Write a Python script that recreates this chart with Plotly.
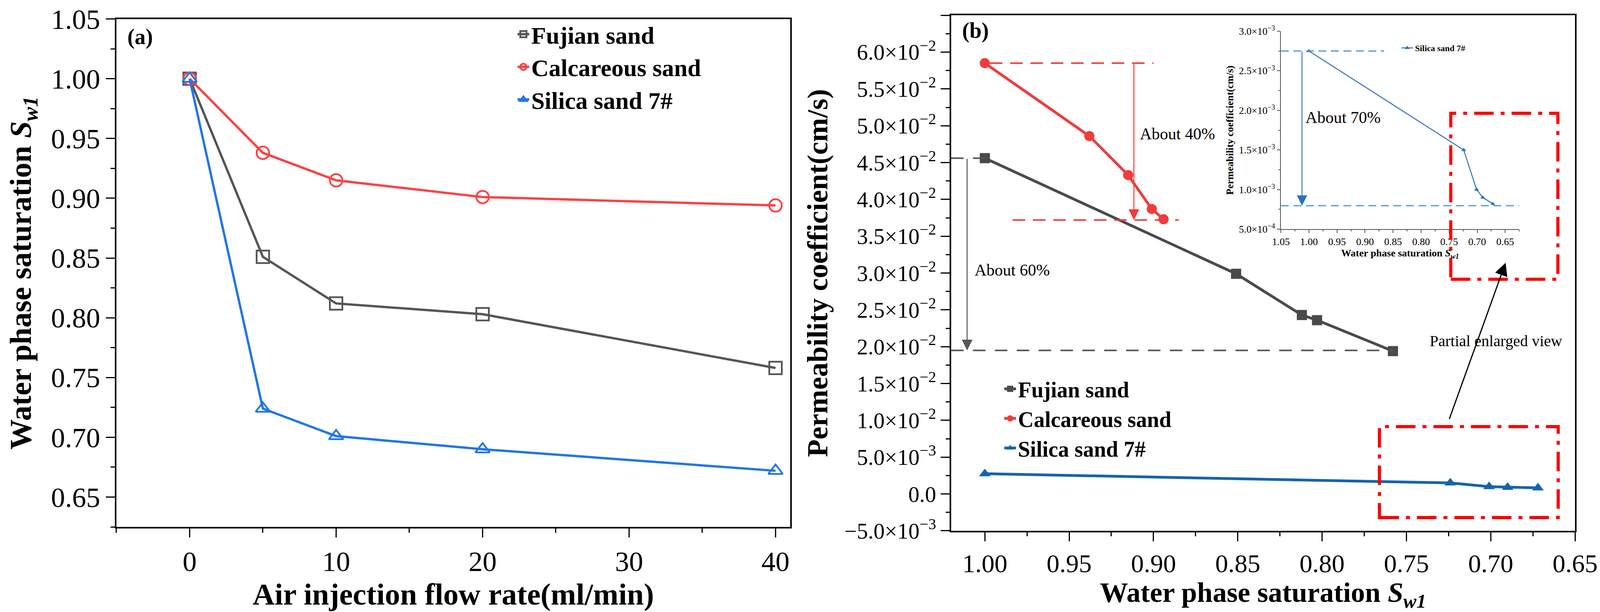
import plotly.graph_objects as go

# ---------------- data ----------------
# Panel (a): water phase saturation vs air injection flow rate
flow_rate = [0, 5, 10, 20, 40]
sw_fujian = [1.000, 0.851, 0.812, 0.803, 0.758]
sw_calcareous = [1.000, 0.938, 0.915, 0.901, 0.894]
sw_silica = [1.000, 0.724, 0.701, 0.690, 0.672]

# Panel (b): permeability coefficient vs water phase saturation
k_fujian = [0.0456, 0.0299, 0.0243, 0.0236, 0.0194]
k_calcareous = [0.0585, 0.0486, 0.0433, 0.0387, 0.0373]
k_silica = [0.00275, 0.00150, 0.00100, 0.00090, 0.00082]

series_names = ["Fujian sand", "Calcareous sand", "Silica sand 7#"]

# tick labels
a_xticks = [0, 10, 20, 30, 40]
a_yticks = [0.65, 0.70, 0.75, 0.80, 0.85, 0.90, 0.95, 1.00, 1.05]
a_yticktext = ["0.65", "0.70", "0.75", "0.80", "0.85", "0.90", "0.95", "1.00", "1.05"]

b_xticks = [1.00, 0.95, 0.90, 0.85, 0.80, 0.75, 0.70, 0.65]
b_xticktext = ["1.00", "0.95", "0.90", "0.85", "0.80", "0.75", "0.70", "0.65"]
b_yticks = [-0.005, 0.0, 0.005, 0.010, 0.015, 0.020, 0.025, 0.030, 0.035,
            0.040, 0.045, 0.050, 0.055, 0.060, 0.065]
b_yticktext = ["−5.0×10<sup>−3</sup>", "0.0", "5.0×10<sup>−3</sup>",
               "1.0×10<sup>−2</sup>", "1.5×10<sup>−2</sup>", "2.0×10<sup>−2</sup>",
               "2.5×10<sup>−2</sup>", "3.0×10<sup>−2</sup>", "3.5×10<sup>−2</sup>",
               "4.0×10<sup>−2</sup>", "4.5×10<sup>−2</sup>", "5.0×10<sup>−2</sup>",
               "5.5×10<sup>−2</sup>", "6.0×10<sup>−2</sup>", "6.5×10<sup>−2</sup>"]

inset_xticks = [1.05, 1.00, 0.95, 0.90, 0.85, 0.80, 0.75, 0.70, 0.65]
inset_xticktext = ["1.05", "1.00", "0.95", "0.90", "0.85", "0.80", "0.75", "0.70", "0.65"]
inset_yticks = [0.0005, 0.0010, 0.0015, 0.0020, 0.0025, 0.0030]
inset_yticktext = ["5.0×10<sup>−4</sup>", "1.0×10<sup>−3</sup>", "1.5×10<sup>−3</sup>",
                   "2.0×10<sup>−3</sup>", "2.5×10<sup>−3</sup>", "3.0×10<sup>−3</sup>"]

# reference levels used for the reduction guides
calc_top, calc_bottom = 0.0585, 0.0372
fujian_top, fujian_bottom = 0.0456, 0.0195
silica_top, silica_bottom = 0.00275, 0.000796

# ---------------- style ----------------
FONT = "Liberation Serif"
a_colors = ["#555555", "#fa4242", "#2176e6"]
b_colors = ["#4a4a4a", "#f23b3b", "#1464ac"]
inset_color = "#2a72b8"
inset_dash_color = "#4a95d6"

fig = go.Figure()

# Panel (a)
a_symbols = ["square-open", "circle-open", "triangle-up-open"]
for name, ys, c, s in zip(series_names, [sw_fujian, sw_calcareous, sw_silica], a_colors, a_symbols):
    fig.add_trace(go.Scatter(
        x=flow_rate, y=ys, name=name, mode="lines+markers",
        line=dict(color=c, width=6),
        marker=dict(symbol=s, size=32, color=c, line=dict(color=c, width=4.5)),
        xaxis="x", yaxis="y", legend="legend", cliponaxis=False))

# Panel (b)
b_symbols = ["square", "circle", "triangle-up"]
for name, ks, xs, c, s in zip(series_names, [k_fujian, k_calcareous, k_silica],
                              [sw_fujian, sw_calcareous, sw_silica], b_colors, b_symbols):
    fig.add_trace(go.Scatter(
        x=xs, y=ks, name=name, mode="lines+markers",
        line=dict(color=c, width=7),
        marker=dict(symbol=s, size=26, color=c),
        xaxis="x2", yaxis="y2", legend="legend2", cliponaxis=False))

# Inset
fig.add_trace(go.Scatter(
    x=sw_silica, y=k_silica, name=series_names[2], mode="lines+markers",
    line=dict(color=inset_color, width=2.5),
    marker=dict(symbol="triangle-up", size=11, color=inset_color),
    xaxis="x3", yaxis="y3", legend="legend3", cliponaxis=False))

# ---------------- axes ----------------
tick_common = dict(ticks="outside", showline=True, linecolor="black", linewidth=4,
                   tickcolor="black", tickwidth=3, ticklen=23, showgrid=False,
                   zeroline=False, mirror=True, automargin=False)

fig.update_layout(
    xaxis=dict(domain=[0.0727, 0.4935], range=[-5, 41], anchor="y",
               tickvals=a_xticks, tickfont=dict(family=FONT, size=72, color="black"),
               minor=dict(dtick=5, tick0=0, ticks="outside", ticklen=11, tickwidth=3, tickcolor="black"),
               title=dict(text="Air injection flow rate(ml/min)", standoff=16,
                          font=dict(family=FONT, size=78, color="black", weight="bold")),
               **tick_common),
    yaxis=dict(domain=[0.139, 0.969], range=[0.625, 1.05], anchor="x",
               tickvals=a_yticks, ticktext=a_yticktext,
               tickfont=dict(family=FONT, size=72, color="black"),
               minor=dict(dtick=0.025, tick0=0, ticks="outside", ticklen=11, tickwidth=3, tickcolor="black"),
               title=dict(text="Water phase saturation <i>S</i><sub><i>w1</i></sub>", standoff=26,
                          font=dict(family=FONT, size=78, color="black", weight="bold")),
               **tick_common),
    xaxis2=dict(domain=[0.594, 0.9837], range=[1.02, 0.65], anchor="y2",
                tickvals=b_xticks, ticktext=b_xticktext,
                tickfont=dict(family=FONT, size=66, color="black"),
                minor=dict(dtick=0.025, tick0=0, ticks="outside", ticklen=10, tickwidth=3, tickcolor="black"),
                title=dict(text="Water phase saturation <i>S</i><sub><i>w1</i></sub>", standoff=18,
                           font=dict(family=FONT, size=72, color="black", weight="bold")),
                **tick_common),
    yaxis2=dict(domain=[0.1327, 0.975], range=[-0.005, 0.065], anchor="x2",
                tickvals=b_yticks, ticktext=b_yticktext,
                tickfont=dict(family=FONT, size=57, color="black"),
                minor=dict(dtick=0.0025, tick0=0, ticks="outside", ticklen=10, tickwidth=3, tickcolor="black"),
                title=dict(text="Permeability coefficient(cm/s)", standoff=20,
                           font=dict(family=FONT, size=74, color="black", weight="bold")),
                **tick_common),
    xaxis3=dict(domain=[0.800, 0.9488], range=[1.05, 0.625], anchor="y3",
                tickvals=inset_xticks, ticktext=inset_xticktext, ticks="outside",
                showline=True, linecolor="#555555", linewidth=2, tickcolor="#555555",
                tickwidth=1.5, ticklen=8, showgrid=False, zeroline=False, automargin=False,
                tickfont=dict(family=FONT, size=26, color="black"),
                minor=dict(dtick=0.025, tick0=0, ticks="outside", ticklen=4, tickwidth=1.5, tickcolor="#555555"),
                title=dict(text="Water phase saturation <i>S</i><sub><i>w1</i></sub>", standoff=4,
                           font=dict(family=FONT, size=26, color="black", weight="bold"))),
    yaxis3=dict(domain=[0.6256, 0.949], range=[0.0005, 0.003], anchor="x3",
                tickvals=inset_yticks, ticktext=inset_yticktext, ticks="outside",
                showline=True, linecolor="#555555", linewidth=2, tickcolor="#555555",
                tickwidth=1.5, ticklen=8, showgrid=False, zeroline=False, automargin=False,
                tickfont=dict(family=FONT, size=26, color="black"),
                minor=dict(dtick=0.00025, tick0=0, ticks="outside", ticklen=4, tickwidth=1.5, tickcolor="#555555"),
                title=dict(text="Permeability coefficient(cm/s)", standoff=6,
                           font=dict(family=FONT, size=26, color="black", weight="bold"))),
)

# ---------------- legends ----------------
fig.update_layout(
    legend=dict(x=0.322, y=0.974, xanchor="left", yanchor="top", bgcolor="rgba(0,0,0,0)",
                font=dict(family=FONT, size=62, color="black", weight="bold"), tracegroupgap=0),
    legend2=dict(x=0.626, y=0.392, xanchor="left", yanchor="top", bgcolor="rgba(0,0,0,0)",
                 font=dict(family=FONT, size=56, color="black", weight="bold"), tracegroupgap=0),
    legend3=dict(x=0.874, y=0.935, xanchor="left", yanchor="top", bgcolor="rgba(0,0,0,0)",
                 font=dict(family=FONT, size=22, color="black", weight="bold"), tracegroupgap=0),
)

# ---------------- guides / shapes ----------------
shapes = []
# red dashed (calcareous) levels
shapes.append(dict(type="line", xref="x2", yref="y2", x0=0.997, x1=0.900, y0=calc_top, y1=calc_top,
                   line=dict(color="#f23b3b", width=4, dash="32px,20px")))
shapes.append(dict(type="line", xref="x2", yref="y2", x0=0.9835, x1=0.885, y0=calc_bottom, y1=calc_bottom,
                   line=dict(color="#f23b3b", width=4, dash="32px,20px")))
# gray dashed (fujian) levels
shapes.append(dict(type="line", xref="x2", yref="y2", x0=1.02, x1=1.0, y0=fujian_top, y1=fujian_top,
                   line=dict(color="#555555", width=4, dash="32px,24px")))
shapes.append(dict(type="line", xref="x2", yref="y2", x0=1.02, x1=0.758, y0=fujian_bottom, y1=fujian_bottom,
                   line=dict(color="#555555", width=4, dash="32px,24px")))
# red dash-dot rectangles
shapes.append(dict(type="rect", xref="x2", yref="y2", x0=0.766, x1=0.660, y0=-0.0032, y1=0.00915,
                   line=dict(color="#ff0000", width=8, dash="50px,18px,10px,18px")))
shapes.append(dict(type="rect", xref="x2", yref="y2", x0=0.7237, x1=0.6602, y0=0.02915, y1=0.0517,
                   line=dict(color="#ff0000", width=8, dash="50px,18px,10px,18px")))
# inset dashed levels
shapes.append(dict(type="line", xref="x3", yref="y3", x0=1.05, x1=0.866, y0=silica_top, y1=silica_top,
                   line=dict(color=inset_dash_color, width=3, dash="20px,12px")))
shapes.append(dict(type="line", xref="x3", yref="y3", x0=1.05, x1=0.625, y0=silica_bottom, y1=silica_bottom,
                   line=dict(color=inset_dash_color, width=3, dash="20px,12px")))
fig.update_layout(shapes=shapes)

# ---------------- annotations ----------------
ann = []
ann.append(dict(x=-4.3, y=1.035, xref="x", yref="y", text="<b>(a)</b>", showarrow=False,
                xanchor="left", font=dict(family=FONT, size=56, color="black")))
ann.append(dict(x=1.014, y=0.0629, xref="x2", yref="y2", text="<b>(b)</b>", showarrow=False,
                xanchor="left", font=dict(family=FONT, size=56, color="black")))
# arrows
ann.append(dict(x=0.9116, y=calc_bottom, ax=0.9116, ay=calc_top, xref="x2", yref="y2",
                axref="x2", ayref="y2", text="", showarrow=True, arrowhead=2, arrowsize=2.2,
                arrowwidth=2.5, arrowcolor="#f23b3b", standoff=0, startstandoff=0))
ann.append(dict(x=1.0105, y=fujian_bottom, ax=1.0105, ay=fujian_top, xref="x2", yref="y2",
                axref="x2", ayref="y2", text="", showarrow=True, arrowhead=2, arrowsize=2.2,
                arrowwidth=2.5, arrowcolor="#555555", standoff=0, startstandoff=0))
ann.append(dict(x=0.6912, y=0.0314, ax=0.7247, ay=0.0101, xref="x2", yref="y2",
                axref="x2", ayref="y2", text="", showarrow=True, arrowhead=2, arrowsize=2.2,
                arrowwidth=3, arrowcolor="black", standoff=0, startstandoff=0))
ann.append(dict(x=1.0124, y=silica_bottom, ax=1.0124, ay=silica_top, xref="x3", yref="y3",
                axref="x3", ayref="y3", text="", showarrow=True, arrowhead=2, arrowsize=2.4,
                arrowwidth=2.2, arrowcolor=inset_color, standoff=0, startstandoff=0))
# texts
ann.append(dict(x=0.9086, y=0.0489, xref="x2", yref="y2", text="About 40%", showarrow=False,
                xanchor="left", font=dict(family=FONT, size=42, color="black")))
ann.append(dict(x=1.0065, y=0.0304, xref="x2", yref="y2", text="About 60%", showarrow=False,
                xanchor="left", font=dict(family=FONT, size=42, color="black")))
ann.append(dict(x=0.7367, y=0.0208, xref="x2", yref="y2", text="Partial enlarged view", showarrow=False,
                xanchor="left", font=dict(family=FONT, size=40, color="black")))
ann.append(dict(x=1.0075, y=0.00191, xref="x3", yref="y3", text="About 70%", showarrow=False,
                xanchor="left", font=dict(family=FONT, size=42, color="black")))
fig.update_layout(annotations=ann)

fig.update_layout(
    width=4099, height=1568, margin=dict(l=0, r=0, t=0, b=0, pad=0),
    paper_bgcolor="white", plot_bgcolor="rgba(0,0,0,0)",
    font=dict(family=FONT, color="black"), showlegend=True,
)

fig.write_html("out.html", config={"displayModeBar": False},
               post_script="document.body.style.margin='0';document.body.style.overflow='hidden';")
